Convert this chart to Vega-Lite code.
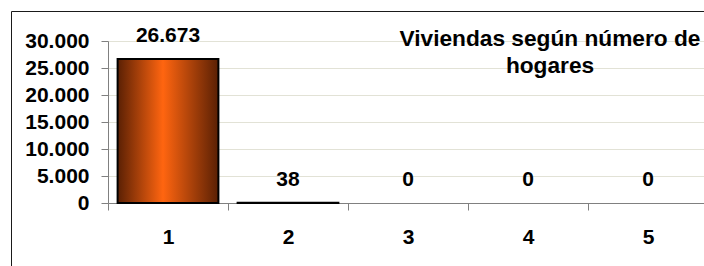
{
  "$schema": "https://vega.github.io/schema/vega-lite/v6.json",
  "autosize": "none",
  "width": 710,
  "height": 262,
  "padding": {"left": 11, "top": 11, "right": 0, "bottom": 0},
  "background": "white",
  "data": {"values": [
    {"hogares": "1", "viviendas": 26673},
    {"hogares": "2", "viviendas": 38},
    {"hogares": "3", "viviendas": 0},
    {"hogares": "4", "viviendas": 0},
    {"hogares": "5", "viviendas": 0}
  ]},
  "title": {
    "text": ["Viviendas según número de", "hogares"],
    "anchor": "middle",
    "align": "center",
    "baseline": "top",
    "offset": 0,
    "dx": 184,
    "dy": 67,
    "lineHeight": 27,
    "font": "Liberation Sans",
    "fontSize": 22.7,
    "fontWeight": "bold",
    "color": "#000000"
  },
  "encoding": {
    "x": {
      "field": "hogares",
      "type": "nominal",
      "sort": null,
      "scale": {"paddingInner": 0, "paddingOuter": 0, "range": [97, 697]},
      "axis": {
        "title": null,
        "labelAngle": 0,
        "offset": -70,
        "tickBand": "extent",
        "tickSize": 7,
        "tickColor": "#808080",
        "domainColor": "#808080",
        "labelPadding": 16,
        "labelFont": "Liberation Sans",
        "labelFontSize": 21,
        "labelFontWeight": "bold",
        "labelColor": "#000000",
        "grid": false
      }
    },
    "y": {
      "field": "viviendas",
      "type": "quantitative",
      "scale": {"domain": [0, 30000], "nice": false, "range": [192, 30]},
      "axis": {
        "title": null,
        "offset": -97,
        "values": [0, 5000, 10000, 15000, 20000, 25000, 30000],
        "format": ",d",
        "tickSize": 7,
        "tickColor": "#808080",
        "domainColor": "#808080",
        "gridColor": "#e2e2d6",
        "labelPadding": 12,
        "labelFont": "Liberation Sans",
        "labelFontSize": 21,
        "labelFontWeight": "bold",
        "labelColor": "#000000"
      }
    }
  },
  "layer": [
    {
      "transform": [{"filter": "datum.viviendas > 0"}],
      "mark": {
        "type": "bar",
        "width": {"band": 0.84},
        "stroke": "#000000",
        "strokeWidth": 2,
        "fill": {
          "gradient": "linear",
          "x1": 0, "x2": 1, "y1": 0, "y2": 0,
          "stops": [
            {"offset": 0, "color": "#5a2004"},
            {"offset": 0.45, "color": "#ff6510"},
            {"offset": 1, "color": "#5a2004"}
          ]
        }
      }
    },
    {
      "mark": {
        "type": "text",
        "baseline": "bottom",
        "dy": -13,
        "font": "Liberation Sans",
        "fontSize": 21,
        "fontWeight": "bold",
        "color": "#000000"
      },
      "encoding": {
        "text": {"field": "viviendas", "type": "quantitative", "format": ",d"}
      }
    }
  ],
  "config": {
    "locale": {
      "number": {"decimal": ",", "thousands": ".", "grouping": [3], "currency": ["", " €"]}
    },
    "view": {"stroke": "#1a1a1a", "strokeWidth": 1}
  }
}
